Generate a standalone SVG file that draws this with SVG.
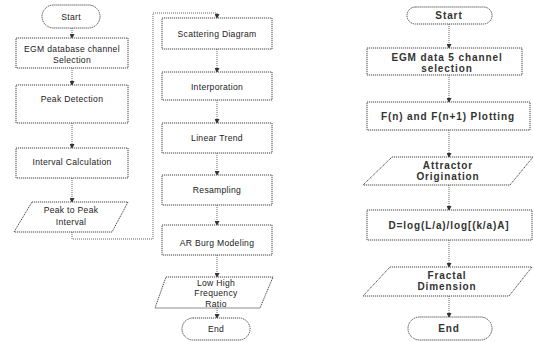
<svg xmlns="http://www.w3.org/2000/svg" width="534" height="342" viewBox="0 0 534 342">
<style>
.s{fill:#fff;stroke:#444;stroke-width:1;stroke-dasharray:1.2 0.8}
.c{fill:none;stroke:#555;stroke-width:0.9;stroke-dasharray:1 1}
.t{font-family:"Liberation Sans",Arial,sans-serif;font-size:8.6px;fill:#222;text-anchor:middle;letter-spacing:0.3px}
.r{font-family:"Liberation Sans",Arial,sans-serif;font-size:10px;font-weight:bold;fill:#333;text-anchor:middle;letter-spacing:0.9px}
</style>
<defs>
<marker id="a" markerWidth="5" markerHeight="5" refX="4" refY="2.5" orient="auto" markerUnits="userSpaceOnUse">
<path d="M0,0 L5,2.5 L0,5 Z" fill="#333"/>
</marker>
</defs>
<rect width="534" height="342" fill="#fff"/>
<g id="connectors">
<path class="c" d="M72,28 V38" marker-end="url(#a)"/>
<path class="c" d="M72,68 V85" marker-end="url(#a)"/>
<path class="c" d="M72,123 V148" marker-end="url(#a)"/>
<path class="c" d="M72,178 V202" marker-end="url(#a)"/>
<path class="c" d="M72,232 V239 H153 V13 H217 V18" marker-end="url(#a)"/>
<path class="c" d="M217,49 V72" marker-end="url(#a)"/>
<path class="c" d="M217,100 V123" marker-end="url(#a)"/>
<path class="c" d="M217,153 V175" marker-end="url(#a)"/>
<path class="c" d="M217,205 V225" marker-end="url(#a)"/>
<path class="c" d="M217,255 V277" marker-end="url(#a)"/>
<path class="c" d="M217,308 V318" marker-end="url(#a)"/>
<path class="c" d="M449,24 V48" marker-end="url(#a)"/>
<path class="c" d="M449,75 V102" marker-end="url(#a)"/>
<path class="c" d="M449,130 V157" marker-end="url(#a)"/>
<path class="c" d="M449,185 V210" marker-end="url(#a)"/>
<path class="c" d="M449,240 V267" marker-end="url(#a)"/>
<path class="c" d="M449,296 V317" marker-end="url(#a)"/>
</g>
<g id="l-start"><rect class="s" x="42" y="5" width="58" height="23" rx="11.5"/><text class="t" x="71" y="19.5">Start</text></g>
<g id="l-egm"><rect class="s" x="16" y="38" width="112" height="30"/><text class="t" x="72" y="52">EGM database channel</text><text class="t" x="72" y="63">Selection</text></g>
<g id="l-peak"><rect class="s" x="16" y="85" width="112" height="38"/><text class="t" x="72" y="102">Peak Detection</text></g>
<g id="l-interval"><rect class="s" x="16" y="148" width="112" height="30"/><text class="t" x="72" y="165">Interval Calculation</text></g>
<g id="l-p2p"><polygon class="s" points="32,202 128,202 112,232 14,232"/><text class="t" x="71" y="213">Peak to Peak</text><text class="t" x="71" y="225">Interval</text></g>
<g id="m-scatter"><rect class="s" x="162" y="18" width="110" height="31"/><text class="t" x="217" y="36.5">Scattering Diagram</text></g>
<g id="m-interp"><rect class="s" x="162" y="72" width="110" height="28"/><text class="t" x="217" y="90">Interporation</text></g>
<g id="m-linear"><rect class="s" x="162" y="123" width="110" height="30"/><text class="t" x="217" y="141">Linear Trend</text></g>
<g id="m-resamp"><rect class="s" x="162" y="175" width="110" height="30"/><text class="t" x="217" y="193">Resampling</text></g>
<g id="m-ar"><rect class="s" x="162" y="225" width="110" height="30"/><text class="t" x="217" y="246">AR Burg Modeling</text></g>
<g id="m-ratio"><polygon class="s" points="166,277 273,277 260,308 155,308"/><text class="t" x="216" y="285.5">Low High</text><text class="t" x="216" y="296">Frequency</text><text class="t" x="216" y="306.5">Ratio</text></g>
<g id="m-end"><rect class="s" x="182" y="318" width="68" height="22" rx="11"/><text class="t" x="216" y="332">End</text></g>
<g id="r-start"><rect class="s" x="407" y="7" width="85" height="17" rx="8.5"/><text class="r" x="449" y="19">Start</text></g>
<g id="r-egm"><rect class="s" x="367" y="48" width="155" height="27"/><text class="r" x="447" y="60.5">EGM data 5 channel</text><text class="r" x="447" y="72">selection</text></g>
<g id="r-plot"><rect class="s" x="367" y="102" width="163" height="28"/><text class="r" x="448" y="120">F(n) and F(n+1) Plotting</text></g>
<g id="r-attr"><polygon class="s" points="392,157 533,157 510,185 363,185"/><text class="r" x="448" y="168.5">Attractor</text><text class="r" x="448" y="180">Origination</text></g>
<g id="r-d"><rect class="s" x="367" y="210" width="165" height="30"/><text class="r" x="449" y="229">D=log(L/a)/log[(k/a)A]</text></g>
<g id="r-fractal"><polygon class="s" points="390,267 532,267 509,296 363,296"/><text class="r" x="447" y="278.5">Fractal</text><text class="r" x="447" y="290">Dimension</text></g>
<g id="r-end"><rect class="s" x="408" y="317" width="84" height="23" rx="11.5"/><text class="r" x="449" y="332">End</text></g>
</svg>
